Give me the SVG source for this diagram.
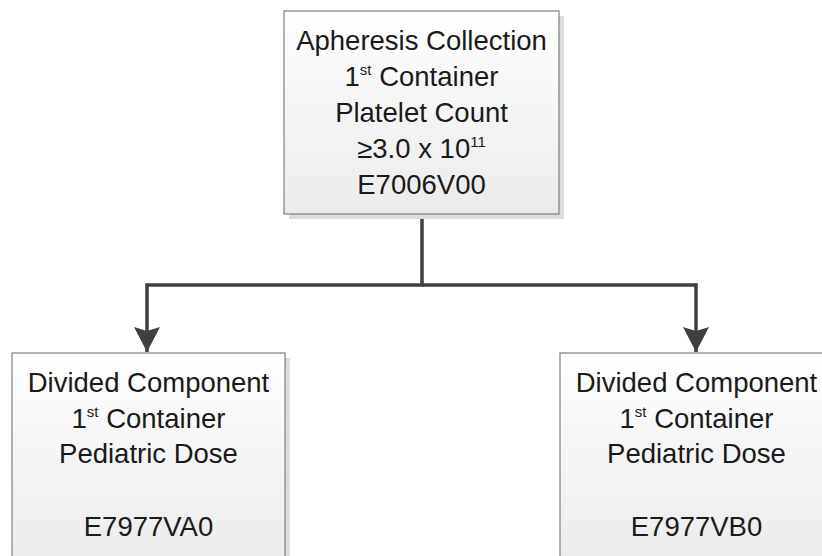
<svg xmlns="http://www.w3.org/2000/svg" width="822" height="556" viewBox="0 0 822 556">
<style>
.box{fill:url(#g);stroke:#7f7f7f;stroke-width:1.2}
.shadow{fill:#dcdcdc}
.t{font-family:"Liberation Sans",Arial,sans-serif;font-size:27.5px;fill:#1a1a1a;text-anchor:middle}
.sup{font-size:15px}
.conn{fill:none;stroke:#404040;stroke-width:3.5}
</style>
<defs>
<linearGradient id="g" x1="0" y1="0" x2="0" y2="1">
<stop offset="0" stop-color="#ffffff"/>
<stop offset="1" stop-color="#ebebeb"/>
</linearGradient>
<marker id="arr" markerUnits="userSpaceOnUse" markerWidth="26" markerHeight="26" viewBox="0 0 26 26" refX="25" refY="13" orient="auto">
<path d="M0,0 L25,13 L0,26 L4,13 Z" fill="#404040"/>
</marker>
</defs>
<g id="connectors">
<path class="conn" d="M422,214 V285 H147 V352" marker-end="url(#arr)"/>
<path class="conn" d="M422,285 H696 V352" marker-end="url(#arr)"/>
</g>
<g id="top">
<rect class="shadow" x="289" y="16" width="275" height="203"/>
<rect class="box" x="284" y="11" width="275" height="203"/>
<text class="t" x="421.5" y="50">Apheresis Collection</text>
<text class="t" x="421.5" y="86">1<tspan class="sup" dy="-11">st</tspan><tspan dy="11"> Container</tspan></text>
<text class="t" x="421.5" y="122">Platelet Count</text>
<text class="t" x="421.5" y="158">≥3.0 x 10<tspan class="sup" dy="-11">11</tspan></text>
<text class="t" x="421.5" y="194">E7006V00</text>
</g>
<g id="left">
<rect class="shadow" x="17" y="358" width="273" height="210"/>
<rect class="box" x="12" y="353" width="273" height="210"/>
<text class="t" x="148.5" y="392">Divided Component</text>
<text class="t" x="148.5" y="428">1<tspan class="sup" dy="-11">st</tspan><tspan dy="11"> Container</tspan></text>
<text class="t" x="148.5" y="463">Pediatric Dose</text>
<text class="t" x="148.5" y="536">E7977VA0</text>
</g>
<g id="right">
<rect class="shadow" x="565" y="358" width="273" height="210"/>
<rect class="box" x="560" y="353" width="273" height="210"/>
<text class="t" x="696.5" y="392">Divided Component</text>
<text class="t" x="696.5" y="428">1<tspan class="sup" dy="-11">st</tspan><tspan dy="11"> Container</tspan></text>
<text class="t" x="696.5" y="463">Pediatric Dose</text>
<text class="t" x="696.5" y="536">E7977VB0</text>
</g>
</svg>
